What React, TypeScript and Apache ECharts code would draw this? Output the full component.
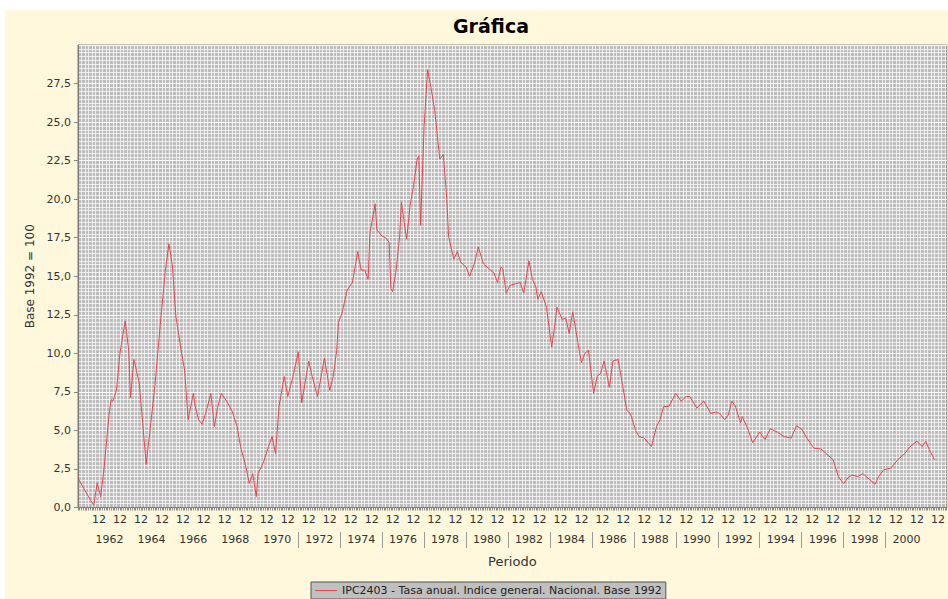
import React, { useEffect, useRef } from 'react';
import * as echarts from 'echarts';

const TITLE = 'Gráfica';
const SERIES_NAME = 'IPC2403 - Tasa anual. Indice general. Nacional. Base 1992';
const Y_NAME = 'Base 1992 = 100';
const X_NAME = 'Periodo';
const MONTH_TICK_LABEL = '12';

// first and last month of the category axis
const AXIS_START = { year: 1961, month: 7 };
const AXIS_END = { year: 2002, month: 12 };
// year bands with separators
const SEPARATOR_FROM = 1972;
const SEPARATOR_TO = 2000;

// values (month, annual rate %)
const periods = [
  '1961-07', '1961-11', '1962-01', '1962-04', '1962-06', '1962-08', '1962-10',
  '1963-01', '1963-02', '1963-03', '1963-05', '1963-07', '1963-10', '1963-12',
  '1964-01', '1964-03', '1964-06', '1964-08', '1964-10', '1964-12',
  '1965-03', '1965-06', '1965-09', '1965-11',
  '1966-01', '1966-03', '1966-06', '1966-08', '1966-10',
  '1967-01', '1967-02', '1967-04', '1967-06', '1967-08', '1967-11',
  '1968-01', '1968-03', '1968-05', '1968-08', '1968-11',
  '1969-02', '1969-04', '1969-07', '1969-09', '1969-11',
  '1970-01', '1970-02', '1970-05', '1970-08', '1970-10', '1970-12',
  '1971-02', '1971-05', '1971-07', '1971-10',
  '1972-01', '1972-03', '1972-07', '1972-09', '1972-12',
  '1973-04', '1973-07', '1973-09', '1973-11', '1973-12',
  '1974-02', '1974-05', '1974-08', '1974-10', '1974-11',
  '1975-01', '1975-03', '1975-05', '1975-06', '1975-09', '1975-10',
  '1976-01', '1976-03', '1976-05', '1976-06', '1976-07', '1976-09', '1976-11', '1976-12',
  '1977-03', '1977-05', '1977-07', '1977-09', '1977-10', '1977-11',
  '1978-01', '1978-03', '1978-05', '1978-07', '1978-10', '1978-12',
  '1979-02', '1979-03', '1979-06', '1979-08', '1979-10',
  '1980-01', '1980-03', '1980-06', '1980-08', '1980-11',
  '1981-02', '1981-05', '1981-07', '1981-09', '1981-10', '1981-12',
  '1982-02', '1982-05', '1982-08', '1982-10',
  '1983-01', '1983-03', '1983-05', '1983-06', '1983-08', '1983-11',
  '1984-02', '1984-04', '1984-05', '1984-08', '1984-10', '1984-12',
  '1985-02', '1985-05', '1985-07', '1985-09', '1985-11',
  '1986-02', '1986-04', '1986-06', '1986-08', '1986-11',
  '1987-01', '1987-04', '1987-06', '1987-09', '1987-11',
  '1988-02', '1988-04', '1988-07', '1988-11',
  '1989-02', '1989-04', '1989-06', '1989-09',
  '1990-01', '1990-04', '1990-07', '1990-09',
  '1991-01', '1991-05', '1991-09', '1991-12',
  '1992-02', '1992-05', '1992-07', '1992-09', '1992-11',
  '1993-02', '1993-03', '1993-06', '1993-09',
  '1994-01', '1994-04', '1994-07', '1994-11',
  '1995-03', '1995-07', '1995-10',
  '1996-01', '1996-04', '1996-08', '1996-12',
  '1997-03', '1997-07', '1997-10',
  '1998-01', '1998-04', '1998-06', '1998-09', '1998-12',
  '1999-03', '1999-07', '1999-09', '1999-12',
  '2000-04', '2000-08', '2000-12',
  '2001-03', '2001-07', '2001-10', '2001-12',
  '2002-02', '2002-05',
];

const values = [
  1.9, 1.1, 0.7, 0.15, 1.6, 0.7, 2.65,
  6.3, 7.0, 6.9, 7.6, 10.0, 12.1, 10.2,
  7.1, 9.6, 8.1, 5.5, 2.8, 4.8,
  7.9, 11.8, 15.4, 17.1,
  15.7, 12.4, 10.2, 8.9, 5.7,
  7.4, 6.6, 5.7, 5.4, 6.1, 7.4,
  5.25, 6.55, 7.4, 6.9, 6.3,
  5.25, 3.95, 2.65, 1.57, 2.2,
  0.7, 2.2, 2.9, 3.95, 4.6, 3.5,
  6.55, 8.5, 7.2, 8.5,
  10.1, 6.8, 9.5, 8.5, 7.2,
  9.7, 7.6, 8.5, 10.2, 12.0,
  12.6, 14.1, 14.6, 15.9, 16.6,
  15.4, 15.4, 14.8, 17.8, 19.7, 18.0,
  17.6, 17.5, 17.2, 14.2, 14.0, 15.4, 17.6, 19.8,
  17.4, 19.6, 20.9, 22.6, 22.8, 18.3,
  24.7, 28.4, 27.2, 25.8, 22.6, 22.9,
  20.0, 17.6, 16.1, 16.6, 15.9,
  15.6, 15.0, 15.9, 16.9, 15.8,
  15.5, 15.2, 14.6, 15.6, 15.5, 13.9,
  14.4, 14.5, 14.6, 13.9,
  16.0, 14.8, 14.3, 13.5, 14.0, 13.0,
  10.4, 12.0, 13.0, 12.2, 12.3, 11.3,
  12.7, 10.7, 9.4, 10.0, 10.2,
  7.4, 8.5, 8.7, 9.5, 7.8,
  9.5, 9.6, 8.3, 6.3, 6.1,
  5.0, 4.6, 4.5, 3.95,
  5.25, 5.7, 6.55, 6.55,
  7.4, 6.9, 7.2, 7.2,
  6.45, 6.9, 6.1, 6.2,
  6.1, 5.7, 6.0, 6.9, 6.6,
  5.5, 5.9, 5.15, 4.2,
  4.9, 4.4, 5.1, 4.9,
  4.6, 4.5, 5.3,
  5.1, 4.5, 3.85, 3.8,
  3.5, 3.1, 2.0,
  1.55, 2.0, 2.1, 2.0, 2.2,
  1.9, 1.5, 2.0, 2.45,
  2.55, 3.1, 3.5,
  3.95, 4.3, 3.95, 4.3,
  3.75, 3.1,
];

function buildMonths(): string[] {
  const out: string[] = [];
  let y = AXIS_START.year;
  let m = AXIS_START.month;
  while (y < AXIS_END.year || (y === AXIS_END.year && m <= AXIS_END.month)) {
    out.push(`${y}-${String(m).padStart(2, '0')}`);
    m += 1;
    if (m > 12) {
      m = 1;
      y += 1;
    }
  }
  return out;
}

const months = buildMonths();
const FONT = 'DejaVu Sans';

const yearOf = (v: string) => parseInt(v.slice(0, 4), 10);
const monthOf = (v: string) => parseInt(v.slice(5, 7), 10);

export default function App() {
  const ref = useRef<HTMLDivElement>(null);

  useEffect(() => {
    if (!ref.current) return;
    const chart = echarts.init(ref.current, undefined, { renderer: 'svg' });
    const option: any = {
      animation: false,
      backgroundColor: '#FFF8DC',
      textStyle: { fontFamily: FONT },
      title: {
        text: TITLE,
        left: 481,
        top: 1,
        textAlign: 'center',
        textStyle: { fontSize: 19, fontWeight: 'bold', color: '#000', fontFamily: FONT },
      },
      legend: {
        show: true,
        left: 306,
        top: 572,
        backgroundColor: '#c0c0c0',
        borderColor: '#555',
        borderWidth: 1,
        borderRadius: 0,
        padding: [2, 4, 2, 4],
        icon: 'rect',
        itemWidth: 22,
        itemHeight: 1,
        itemGap: 5,
        textStyle: { fontSize: 11, color: '#222', fontFamily: FONT, lineHeight: 13 },
        data: [SERIES_NAME],
      },
      grid: {
        left: 73,
        top: 35,
        bottom: 91.5,
        right: -12.2,
        show: true,
        backgroundColor: '#bdbdbd',
        borderColor: '#808080',
        borderWidth: 1,
      },
      xAxis: [
        {
          type: 'category',
          data: months,
          boundaryGap: false,
          position: 'bottom',
          axisLine: { show: true, lineStyle: { color: '#7a7a7a' } },
          axisTick: { show: true, interval: 0, length: 3, lineStyle: { color: '#8a8a8a' } },
          axisLabel: {
            interval: (i: number, v: string) => monthOf(v) === 7 && yearOf(v) > AXIS_START.year,
            formatter: () => MONTH_TICK_LABEL,
            margin: 6,
            color: '#333',
            fontSize: 11,
            fontFamily: FONT,
          },
          splitLine: {
            show: true,
            interval: (i: number) => i % 2 === 0,
            lineStyle: { color: '#ffffff', width: 1, opacity: 0.7 },
          },
          name: X_NAME,
          nameLocation: 'middle',
          nameGap: 47,
          nameTextStyle: { fontSize: 13, color: '#333', fontFamily: FONT },
        },
        {
          type: 'category',
          data: months,
          boundaryGap: false,
          position: 'bottom',
          offset: 24.5,
          axisLine: { show: false },
          axisTick: {
            show: true,
            interval: (i: number, v: string) => {
              const y = yearOf(v);
              return monthOf(v) === 1 && y % 2 === 0 && y >= SEPARATOR_FROM && y <= SEPARATOR_TO;
            },
            length: 16,
            lineStyle: { color: '#9a9a9a' },
          },
          axisLabel: {
            interval: (i: number, v: string) => {
              const y = yearOf(v);
              return monthOf(v) === 1 && y % 2 === 1 && y > AXIS_START.year && y < AXIS_END.year;
            },
            formatter: (v: string) => String(yearOf(v) - 1),
            margin: 2,
            color: '#333',
            fontSize: 11,
            fontFamily: FONT,
          },
          splitLine: { show: false },
        },
      ],
      yAxis: {
        type: 'value',
        min: 0,
        max: 30,
        interval: 2.5,
        axisLine: { show: true, lineStyle: { color: '#7a7a7a' } },
        axisTick: { show: true, length: 4, lineStyle: { color: '#888' } },
        axisLabel: {
          formatter: (v: number) => v.toFixed(1).replace('.', ','),
          showMaxLabel: false,
          margin: 7,
          color: '#333',
          fontSize: 11,
          fontFamily: FONT,
        },
        splitLine: { show: true, lineStyle: { color: '#ffffff', opacity: 0.95 } },
        minorTick: { show: false, splitNumber: 10 },
        minorSplitLine: { show: true, lineStyle: { color: '#ffffff', opacity: 0.7 } },
        name: Y_NAME,
        nameLocation: 'middle',
        nameGap: 40,
        nameRotate: 90,
        nameTextStyle: { fontSize: 12, color: '#333', fontFamily: FONT },
      },
      series: [
        {
          name: SERIES_NAME,
          type: 'line',
          xAxisIndex: 0,
          yAxisIndex: 0,
          symbol: 'none',
          lineStyle: { color: '#e8454b', width: 1 },
          itemStyle: { color: '#e8454b' },
          data: periods.map((p, i) => [p, values[i]]),
        },
      ],
    };
    chart.setOption(option);
    return () => chart.dispose();
  }, []);

  return (
    <div
      ref={ref}
      style={{ position: 'absolute', left: 5, top: 10, width: 943, height: 589 }}
    />
  );
}
